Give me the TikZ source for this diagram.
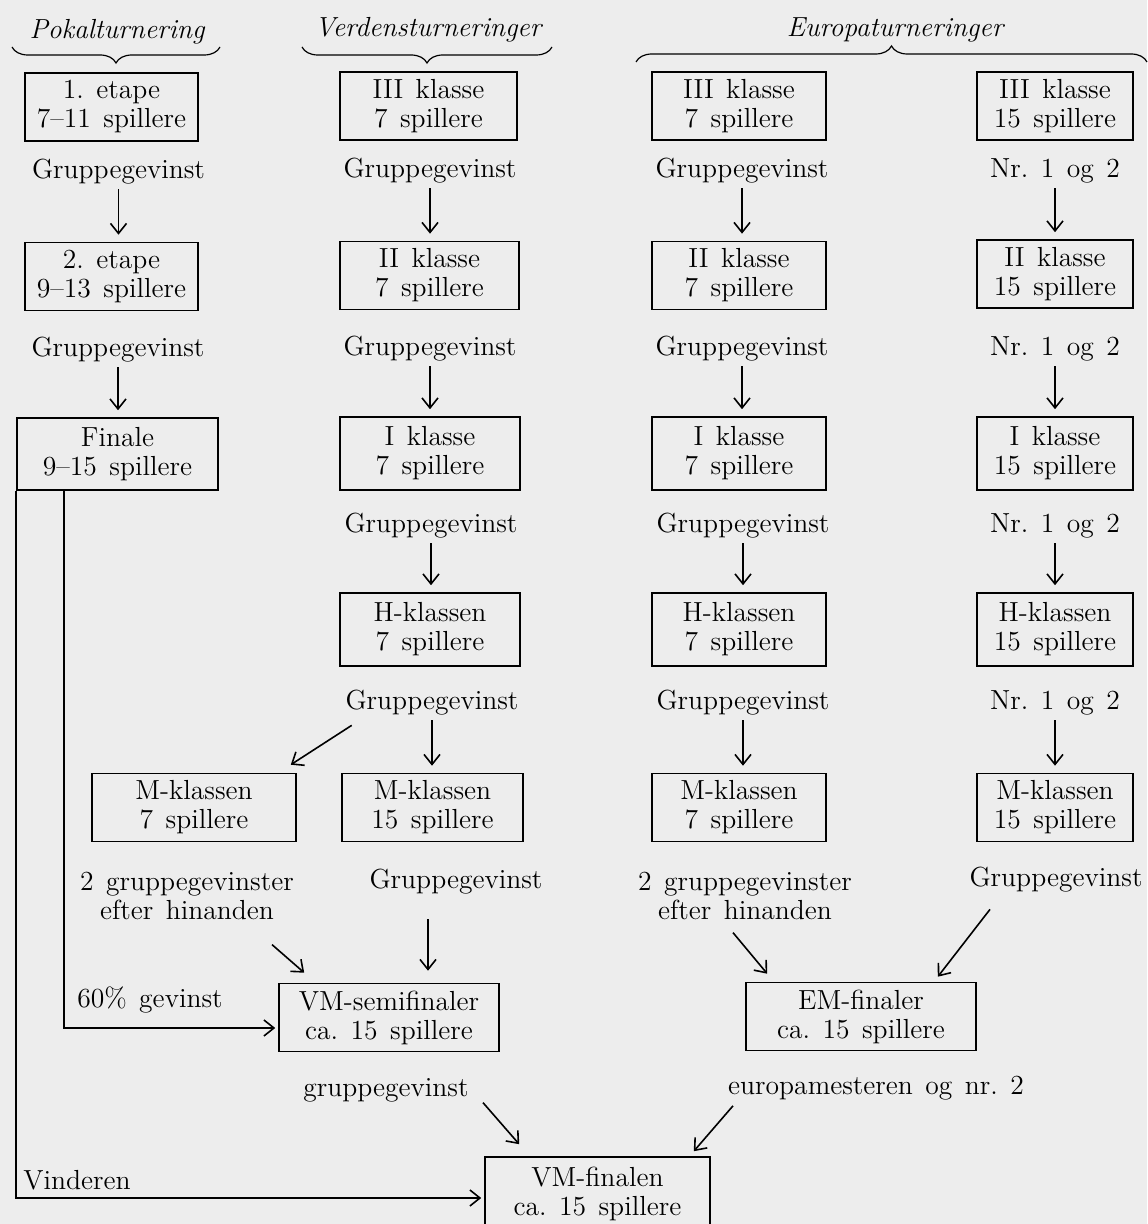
\documentclass[tikz,border=0pt]{standalone}
\usepackage{fontspec}
\usetikzlibrary{arrows.meta,decorations.pathreplacing}

\newcommand{\skrift}{\fontsize{13.8}{14.5}\selectfont\frenchspacing\spaceskip=0.45em plus 0.1em minus 0.05em\relax}

\tikzset{
  felt/.style={draw, align=center, inner sep=2pt, minimum height=34pt},
  tekst/.style={align=center, inner sep=2pt},
  overskrift/.style={inner sep=2pt, font=\skrift\itshape},
  pil/.style={->},
  nedpil/.style={->, shorten >=3.5pt},
  klamme/.style={decorate, decoration={brace, amplitude=8pt}, line width=0.6pt},
}

\begin{document}
\begin{tikzpicture}[x=0.5pt, y=-0.5pt, line width=0.8pt, font=\skrift,
    >={Straight Barb[length=5pt,width=8pt]}]
    \fill[black!7] (0,0) rectangle (1147,1224);
    \useasboundingbox (0,0) rectangle (1147,1224);

    % overskrifter
    \node[overskrift] (hp) at (117,32) {Pokalturnering};
    \node[overskrift] (hv) at (428,30) {Verdensturneringer};
    \node[overskrift] (he) at (895,30) {Europaturneringer};
    \draw[klamme] (220,47) -- (12,47);
    \draw[klamme] (552,47) -- (302,47);
    \draw[klamme] (636,62) -- (1147,62);

    % Pokalturnering
    \node[felt, minimum width=86.5pt] (p1) at (111.5,107) {1. etape\\7--11 spillere};
    \node[tekst] (pg1) at (118.5,172) {Gruppegevinst};
    \node[felt, minimum width=86.5pt] (p2) at (111.5,276.5) {2. etape\\9--13 spillere};
    \node[tekst] (pg2) at (118,350) {Gruppegevinst};
    \node[felt, minimum width=100.5pt, minimum height=36pt] (fin) at (117.5,454) {Finale\\9--15 spillere};

    % Verdensturneringer
    \node[felt, minimum width=88.5pt] (v1) at (428.5,106) {III klasse\\7 spillere};
    \node[tekst] (vg1) at (430,171) {Gruppegevinst};
    \node[felt, minimum width=89.5pt] (v2) at (429.5,275.5) {II klasse\\7 spillere};
    \node[tekst] (vg2) at (430,349) {Gruppegevinst};
    \node[felt, minimum width=90pt, minimum height=36.5pt] (v3) at (430,453.5) {I klasse\\7 spillere};
    \node[tekst] (vg3) at (431,526) {Gruppegevinst};
    \node[felt, minimum width=90pt, minimum height=36.5pt] (v4) at (430,629.5) {H-klassen\\7 spillere};
    \node[tekst] (vg4) at (432,703) {Gruppegevinst};
    \node[felt, minimum width=102pt] (mkl) at (194,807.5) {M-klassen\\7 spillere};
    \node[felt, minimum width=90.5pt] (v5) at (432.5,807.5) {M-klassen\\15 spillere};
    \node[tekst] (to2) at (187,896) {2 gruppegevinster\\efter hinanden};
    \node[tekst] (vg5) at (456,882) {Gruppegevinst};
    \node[tekst] (g60) at (150,1000) {60\% gevinst};
    \node[felt, minimum width=110pt] (vms) at (389,1017.5) {VM-semifinaler\\ca. 15 spillere};
    \node[tekst] (vgg) at (386,1090) {gruppegevinst};
    \node[tekst] (vind) at (77,1180) {Vinderen};
    \node[felt, minimum width=112.5pt, minimum height=37pt] (vmf) at (597.5,1194) {VM-finalen\\ca. 15 spillere};

    % Europaturneringer
    \node[felt, minimum width=87pt] (e1) at (739,106) {III klasse\\7 spillere};
    \node[tekst] (eg1) at (742,171) {Gruppegevinst};
    \node[felt, minimum width=87pt] (e2) at (739,275.5) {II klasse\\7 spillere};
    \node[tekst] (eg2) at (742,349) {Gruppegevinst};
    \node[felt, minimum width=87pt, minimum height=36.5pt] (e3) at (739,453.5) {I klasse\\7 spillere};
    \node[tekst] (eg3) at (743,526) {Gruppegevinst};
    \node[felt, minimum width=87pt, minimum height=36.5pt] (e4) at (739,629.5) {H-klassen\\7 spillere};
    \node[tekst] (eg4) at (743,703) {Gruppegevinst};
    \node[felt, minimum width=87pt] (e5) at (739,807.5) {M-klassen\\7 spillere};
    \node[tekst] (ef2) at (745,896) {2 gruppegevinster\\efter hinanden};

    \node[felt, minimum width=78pt] (n1) at (1055,106) {III klasse\\15 spillere};
    \node[tekst] (ng1) at (1055,171) {Nr. 1 og 2};
    \node[felt, minimum width=78pt] (n2) at (1055,274) {II klasse\\15 spillere};
    \node[tekst] (ng2) at (1055,349) {Nr. 1 og 2};
    \node[felt, minimum width=78pt, minimum height=36.5pt] (n3) at (1055,453.5) {I klasse\\15 spillere};
    \node[tekst] (ng3) at (1055,526) {Nr. 1 og 2};
    \node[felt, minimum width=78pt, minimum height=36.5pt] (n4) at (1055,629.5) {H-klassen\\15 spillere};
    \node[tekst] (ng4) at (1055,703) {Nr. 1 og 2};
    \node[felt, minimum width=78pt] (n5) at (1055,807.5) {M-klassen\\15 spillere};
    \node[tekst] (egv) at (1056,880) {Gruppegevinst};

    \node[felt, minimum width=115pt] (em) at (861,1016.5) {EM-finaler\\ca. 15 spillere};
    \node[tekst] (eur) at (876,1088) {europamesteren og nr. 2};

    % pile
    \foreach \a/\b in {pg1/p2, pg2/fin, vg1/v2, vg2/v3, vg3/v4, vg4/v5,
                       eg1/e2, eg2/e3, eg3/e4, eg4/e5, ng1/n2, ng2/n3, ng3/n4, ng4/n5}
      \draw[nedpil] (\a) -- (\a |- \b.north);
    \draw[pil] ([shift={(11,5)}]vg4.south west) -- ([shift={(-6,-8)}]mkl.north east);
    \draw[pil] ([shift={(85,20)}]to2.south) -- ([shift={(26,-10)}]vms.north west);
    \coordinate (vg5a) at ([shift={(-28,20)}]vg5.south);
    \draw[pil, shorten >=6pt] (vg5a) -- (vg5a |- vms.north);
    \draw[pil] ([shift={(-3,0)}]fin.south west) ++(51,0) |- ([shift={(-3,10.5)}]vms.west);
    \draw[pil] (fin.south west) |- ([shift={(-3,4)}]vmf.west);
    \draw[pil] ([shift={(97,-4)}]vgg.south) -- ([shift={(35,-12)}]vmf.north west);
    \draw[pil] ([shift={(-12,8)}]ef2.south) -- ([shift={(22,-8)}]em.north west);
    \draw[pil] ([shift={(-66,12)}]egv.south) -- ([shift={(-39,-5)}]em.north east);
    \draw[pil] ([shift={(-143,1)}]eur.south) -- ([shift={(-17,-5)}]vmf.north east);
\end{tikzpicture}
\end{document}
